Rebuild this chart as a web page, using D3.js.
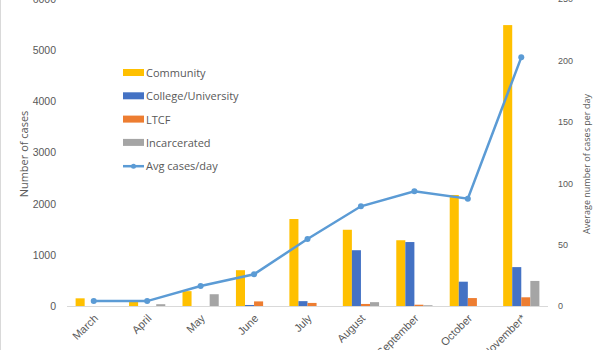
<!DOCTYPE html>
<html lang="en">
<head>
<meta charset="utf-8" />
<script src="https://d3js.org/d3.v7.min.js"></script>
<style>
  body { margin: 0; background: #fff; }
  svg { display: block; font-family: "Open Sans", "Noto Sans", sans-serif; }
</style>
</head>
<body>
<script>
const months = ["March", "April", "May", "June", "July", "August", "September", "October", "November*"];
const community = [150, 100, 290, 700, 1700, 1490, 1285, 2170, 5490];
const college = [0, 0, 0, 20, 95, 1090, 1250, 475, 760];
const ltcf = [0, 0, 0, 90, 60, 40, 25, 155, 170];
const incarcerated = [0, 35, 230, 0, 0, 75, 15, 0, 490];
const avgPerDay = [4, 4, 16.3, 25.8, 54.6, 81.2, 93.4, 87.4, 202.5];
const leftTicks = [0, 1000, 2000, 3000, 4000, 5000, 6000];
const rightTicks = [0, 50, 100, 150, 200, 250];

const seriesNames = ["Community", "College/University", "LTCF", "Incarcerated"];
const seriesValues = [community, college, ltcf, incarcerated];
const colors = ["#FFC000", "#4472C4", "#ED7D31", "#A5A5A5"];
const lineColor = "#5B9BD5";

const width = 600, height = 350;
const plotLeft = 67, plotRight = 548, plotTop = -1, plotBottom = 306;

const svg = d3.select("body").append("svg")
  .attr("width", width)
  .attr("height", height);

// chart border on the left
svg.append("line")
  .attr("x1", 0.5).attr("x2", 0.5).attr("y1", 0).attr("y2", height)
  .attr("stroke", "#d9d9d9");

const x = d3.scaleBand().domain(months).range([plotLeft, plotRight]);
const inner = d3.scaleBand().domain(seriesNames)
  .range([0, x.bandwidth()]).paddingOuter(0.95).paddingInner(0);

const yL = d3.scaleLinear().domain([0, 6000]).range([plotBottom, plotTop]);
const yR = d3.scaleLinear().domain([0, 250]).range([plotBottom, plotTop]);

// baseline
svg.append("line")
  .attr("x1", plotLeft).attr("x2", plotRight)
  .attr("y1", plotBottom + 0.5).attr("y2", plotBottom + 0.5)
  .attr("stroke", "#d9d9d9");

// bars
seriesNames.forEach((name, s) => {
  svg.append("g").selectAll("rect")
    .data(months)
    .join("rect")
    .attr("x", (m) => x(m) + inner(name))
    .attr("y", (m, i) => yL(seriesValues[s][i]))
    .attr("width", inner.bandwidth())
    .attr("height", (m, i) => plotBottom - yL(seriesValues[s][i]))
    .attr("fill", colors[s]);
});

// line
const line = d3.line()
  .x((d, i) => x(months[i]) + x.bandwidth() / 2)
  .y((d) => yR(d));

svg.append("path")
  .datum(avgPerDay)
  .attr("d", line)
  .attr("fill", "none")
  .attr("stroke", lineColor)
  .attr("stroke-width", 2.5);

svg.append("g").selectAll("circle")
  .data(avgPerDay)
  .join("circle")
  .attr("cx", (d, i) => x(months[i]) + x.bandwidth() / 2)
  .attr("cy", (d) => yR(d))
  .attr("r", 3)
  .attr("fill", lineColor);

// left axis
const leftAxis = d3.axisLeft(yL).tickValues(leftTicks).tickFormat(d3.format("d"))
  .tickSize(0).tickPadding(0);
const gL = svg.append("g")
  .attr("transform", "translate(56,0)")
  .call(leftAxis);
gL.select(".domain").remove();
gL.selectAll("text").attr("fill", "#595959").style("font-size", "10.5px");

// right axis
const rightAxis = d3.axisRight(yR).tickValues(rightTicks).tickSize(0).tickPadding(0);
const gR = svg.append("g")
  .attr("transform", "translate(558,0)")
  .call(rightAxis);
gR.select(".domain").remove();
gR.selectAll("text").attr("fill", "#595959").style("font-size", "9px");

// bottom labels
const bottomAxis = d3.axisBottom(x).tickSize(0).tickPadding(0);
const gB = svg.append("g")
  .attr("transform", `translate(0,${plotBottom})`)
  .call(bottomAxis);
gB.select(".domain").remove();
gB.selectAll("text")
  .attr("fill", "#595959")
  .style("font-size", "11px")
  .attr("text-anchor", "end")
  .attr("dy", null)
  .attr("y", 0)
  .attr("transform", "translate(5,13) rotate(-45)");

// axis titles
svg.append("text")
  .attr("transform", "translate(28,154) rotate(-90)")
  .attr("text-anchor", "middle")
  .attr("fill", "#595959")
  .style("font-size", "11px")
  .text("Number of cases");

svg.append("text")
  .attr("transform", "translate(590,164) rotate(-90)")
  .attr("text-anchor", "middle")
  .attr("fill", "#595959")
  .style("font-size", "9px")
  .text("Average number of cases per day");

// legend
const legend = svg.append("g").attr("transform", "translate(123,73)");
seriesNames.forEach((name, i) => {
  const g = legend.append("g").attr("transform", `translate(0,${i * 23.3})`);
  g.append("rect").attr("x", 0).attr("y", -4).attr("width", 21).attr("height", 7).attr("fill", colors[i]);
  g.append("text").attr("x", 23).attr("y", 4).attr("fill", "#595959")
    .style("font-size", "11px").text(name);
});
const lg = legend.append("g").attr("transform", `translate(0,${4 * 23.3})`);
lg.append("line").attr("x1", 0).attr("x2", 21).attr("y1", 0).attr("y2", 0)
  .attr("stroke", lineColor).attr("stroke-width", 2.5);
lg.append("circle").attr("cx", 10.5).attr("cy", 0).attr("r", 2.5).attr("fill", lineColor);
lg.append("text").attr("x", 23).attr("y", 4).attr("fill", "#595959")
  .style("font-size", "11px").text("Avg cases/day");
</script>
</body>
</html>
